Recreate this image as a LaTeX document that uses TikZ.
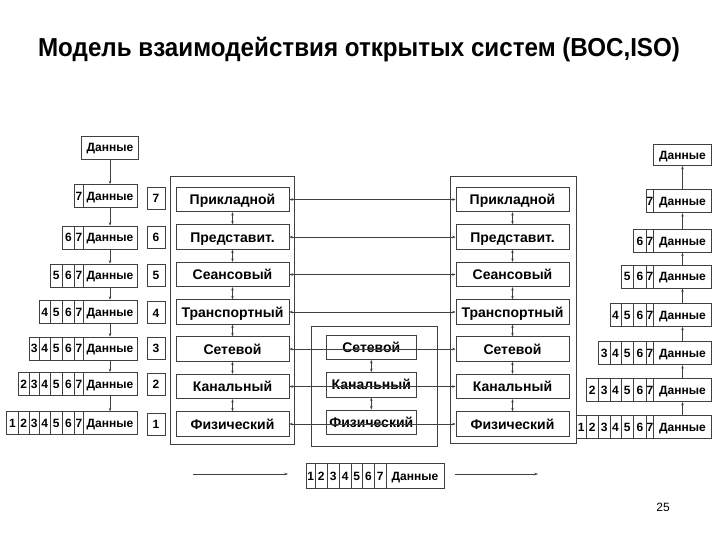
\documentclass[tikz,border=0pt]{standalone}
\usepackage{fontspec}
\setmainfont{Liberation Sans}
\newfontfamily\titlefont[FakeStretch=0.93]{Liberation Sans}
\usetikzlibrary{arrows.meta}

\begin{document}
\begin{tikzpicture}[x=1pt, y=-1pt,
    cell/.style={draw=black!75, line width=0.7pt, inner sep=0pt, minimum height=23pt, text height=8.6pt, text depth=0pt, font=\bfseries\fontsize{12}{12}\selectfont},
    layer/.style={draw=black!75, line width=0.7pt, inner sep=0pt, minimum height=24.5pt, text height=10pt, text depth=0pt, font=\bfseries\fontsize{14}{14}\selectfont},
    system/.style={draw=black!75, line width=0.7pt},
    link/.style={draw=black!75, line width=0.6pt, {Stealth[length=3.5pt,width=2.5pt]}-{Stealth[length=3.5pt,width=2.5pt]}},
    flow/.style={draw=black!75, line width=0.6pt, -{Stealth[length=3.5pt,width=2.5pt]}}]
    \useasboundingbox (0,0) rectangle (720,540);

    \node[font=\titlefont\bfseries\fontsize{26}{28}\selectfont] (title) at (359,50) {Модель взаимодействия открытых систем (ВОС,ISO)};

    % sending side: data wrapped layer by layer
    \node[cell, minimum width=57pt] (ld-top) at (110,147.5) {Данные};
    \foreach \r/\y in {7/196, 6/237.5, 5/275.5, 4/311.7, 3/348.5, 2/384, 1/423.3} {
        \node[cell, minimum width=54pt] (ld-\r) at (110,\y) {Данные};
        \foreach \n/\c/\w in {1/12.5/11.6, 2/23.8/11, 3/34.3/10, 4/44.7/10.7, 5/56.2/12.3, 6/68.5/12.4, 7/78.9/8.3} {
            \ifnum\n<\r\else \node[cell, minimum width=\w pt] (lh-\r-\n) at (\c,\y) {\n}; \fi
        }
    }
    \draw[flow] (ld-top.south) -- (ld-7.north);
    \foreach \a/\b in {7/6, 6/5, 5/4, 4/3, 3/2, 2/1}
        \draw[flow] (ld-\a.south) -- (ld-\b.north);

    \foreach \r/\y in {7/198, 6/237.5, 5/275.3, 4/312.7, 3/348.5, 2/384, 1/424}
        \node[cell, minimum width=18pt, minimum height=22pt] (n-\r) at (156,\y) {\r};

    % the three systems
    \draw[system] (170,176) rectangle (294,444);
    \draw[system] (311.7,326) rectangle (437.7,446);
    \draw[system] (450,176) rectangle (576.7,443);

    \foreach \i/\y/\t in {7/199.5/Прикладной, 6/237/Представит., 5/274.5/Сеансовый, 4/312/Транспортный, 3/349/Сетевой, 2/386.5/Канальный, 1/424/Физический} {
        \node[layer, minimum width=113pt] (l-\i) at (232.5,\y) {\t};
        \node[layer, minimum width=113pt] (r-\i) at (512.5,\y) {\t};
    }
    \foreach \i/\y/\t in {3/347.2/Сетевой, 2/384.8/Канальный, 1/422.2/Физический}
        \node[layer, minimum width=90.7pt] (m-\i) at (371.3,\y) {\t};

    \foreach \i in {1,...,7}
        \draw[link] (l-\i.east) -- (r-\i.west);
    \foreach \a/\b in {7/6, 6/5, 5/4, 4/3, 3/2, 2/1} {
        \draw[link] (l-\a.south) -- (l-\b.north);
        \draw[link] (r-\a.south) -- (r-\b.north);
    }
    \draw[link] (m-3.south) -- (m-2.north);
    \draw[link] (m-2.south) -- (m-1.north);

    % receiving side: headers taken off
    \node[cell, minimum width=57.7pt, minimum height=21pt] (rd-top) at (682.5,155) {Данные};
    \foreach \r/\y in {7/201.3, 6/240.8, 5/276.5, 4/315, 3/353.3, 2/390, 1/426.7} {
        \node[cell, minimum width=58.4pt] (rd-\r) at (682.5,\y) {Данные};
        \foreach \n/\c/\w in {1/581.3/9.3, 2/592.2/12.5, 3/604.2/11.5, 4/615.5/11, 5/627.2/12.3, 6/640/13.4, 7/650/6.6} {
            \ifnum\n<\r\else \node[cell, minimum width=\w pt] (rh-\r-\n) at (\c,\y) {\n}; \fi
        }
    }
    \foreach \a/\b in {1/2, 2/3, 3/4, 4/5, 5/6, 6/7}
        \draw[flow] (rd-\a.north) -- (rd-\b.south);
    \draw[flow] (rd-7.north) -- (rd-top.south);

    % frame on the wire
    \foreach \n/\c/\w in {1/310.8/8.3, 2/321.2/12.3, 3/333.3/12, 4/345.2/11.7, 5/356.8/11.7, 6/368.5/11.6, 7/380.2/11.7}
        \node[cell, minimum width=\w pt, minimum height=25pt] (p-\n) at (\c,475.8) {\n};
    \node[cell, minimum width=58pt, minimum height=25pt] (p-data) at (415,475.8) {Данные};
    \coordinate (wire-a) at (193,474);
    \coordinate (wire-b) at (288,474);
    \coordinate (wire-c) at (455,474);
    \coordinate (wire-d) at (538,474);
    \draw[flow] (wire-a) -- (wire-b);
    \draw[flow] (wire-c) -- (wire-d);

    \node[font=\fontsize{12}{12}\selectfont] (page) at (663,507) {25};
\end{tikzpicture}
\end{document}
